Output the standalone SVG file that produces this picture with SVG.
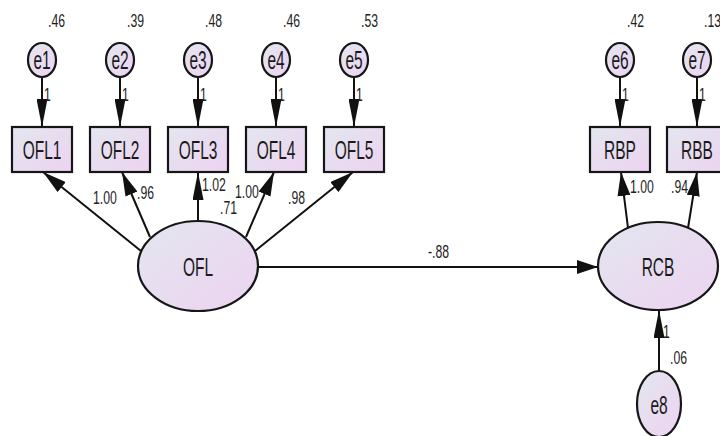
<svg xmlns="http://www.w3.org/2000/svg" width="720" height="436" viewBox="0 0 720 436">
  <defs>
    <linearGradient id="fill" x1="0" y1="0" x2="1" y2="1">
      <stop offset="0" stop-color="#e3e6ef"/>
      <stop offset="1" stop-color="#edd3f1"/>
    </linearGradient>
    <!-- arrowheads: long/narrow for vertical paths, short/wide for horizontal -->
    <marker id="headV" markerUnits="userSpaceOnUse" markerWidth="28" markerHeight="11" refX="28" refY="5.5" orient="auto">
      <path d="M0,0 L28,5.5 L0,11 Z" fill="#111"/>
    </marker>
    <marker id="headD" markerUnits="userSpaceOnUse" markerWidth="24" markerHeight="13" refX="24" refY="6.5" orient="auto">
      <path d="M0,0 L24,6.5 L0,13 Z" fill="#111"/>
    </marker>
    <marker id="headH" markerUnits="userSpaceOnUse" markerWidth="21" markerHeight="14" refX="21" refY="7" orient="auto">
      <path d="M0,0 L21,7 L0,14 Z" fill="#111"/>
    </marker>
  </defs>
  <style>
    .shape { fill: url(#fill); stroke: #161616; stroke-width: 2.2; }
    .name { font-family: "Liberation Sans", Arial, sans-serif; font-size: 25px; fill: #1a1a1a; text-anchor: middle; }
    .val { font-family: "Liberation Sans", Arial, sans-serif; font-size: 18px; fill: #1e1e1e; }
    .edge { fill: none; stroke: #111; stroke-width: 2; }
    .v { marker-end: url(#headV); }
    .d { marker-end: url(#headD); }
    .h { marker-end: url(#headH); }
  </style>
  <rect width="720" height="436" fill="#ffffff"/>

  <!-- connectors -->
  <g id="connectors">
    <path class="edge v" d="M42,77 L42,127"/>
    <path class="edge v" d="M120,77 L120,127"/>
    <path class="edge v" d="M198,77 L198,127"/>
    <path class="edge v" d="M276,77 L276,127"/>
    <path class="edge v" d="M354,77 L354,127"/>
    <path class="edge v" d="M620,77 L620,127"/>
    <path class="edge v" d="M697,77 L697,127"/>
    <path class="edge d" d="M141,251 L43,172"/>
    <path class="edge d" d="M150,237 L122,172"/>
    <path class="edge v" d="M198,221 L198,172"/>
    <path class="edge d" d="M246,237 L274,172"/>
    <path class="edge d" d="M255,251 L353,172"/>
    <path class="edge d" d="M628,228 L621,172"/>
    <path class="edge d" d="M688,228 L697,172"/>
    <path class="edge h" d="M258,267 L598,267"/>
    <path class="edge v" d="M659,371 L659,310"/>

    <text class="val" transform="translate(44 101) scale(0.68 1)">1</text>
    <text class="val" transform="translate(122 101) scale(0.68 1)">1</text>
    <text class="val" transform="translate(200 101) scale(0.68 1)">1</text>
    <text class="val" transform="translate(278 101) scale(0.68 1)">1</text>
    <text class="val" transform="translate(356 101) scale(0.68 1)">1</text>
    <text class="val" transform="translate(622 101) scale(0.68 1)">1</text>
    <text class="val" transform="translate(699 101) scale(0.68 1)">1</text>

    <text class="val" transform="translate(93 204) scale(0.68 1)">1.00</text>
    <text class="val" transform="translate(137 199) scale(0.68 1)">.96</text>
    <text class="val" transform="translate(202 191) scale(0.68 1)">1.02</text>
    <text class="val" transform="translate(235 198) scale(0.68 1)">1.00</text>
    <text class="val" transform="translate(288 204) scale(0.68 1)">.98</text>
    <text class="val" transform="translate(428 258) scale(0.68 1)">-.88</text>
    <text class="val" transform="translate(630 193) scale(0.68 1)">1.00</text>
    <text class="val" transform="translate(671 193) scale(0.68 1)">.94</text>
    <text class="val" transform="translate(663 338) scale(0.68 1)">1</text>
  </g>

  <!-- error terms -->
  <g id="e1"><ellipse class="shape" cx="42" cy="60" rx="14" ry="17"/><text class="name" transform="translate(42 68.5) scale(0.62 1)">e1</text><text class="val" transform="translate(48 27) scale(0.68 1)">.46</text></g>
  <g id="e2"><ellipse class="shape" cx="120" cy="60" rx="14" ry="17"/><text class="name" transform="translate(120 68.5) scale(0.62 1)">e2</text><text class="val" transform="translate(127 27) scale(0.68 1)">.39</text></g>
  <g id="e3"><ellipse class="shape" cx="198" cy="60" rx="14" ry="17"/><text class="name" transform="translate(198 68.5) scale(0.62 1)">e3</text><text class="val" transform="translate(205 27) scale(0.68 1)">.48</text></g>
  <g id="e4"><ellipse class="shape" cx="276" cy="60" rx="14" ry="17"/><text class="name" transform="translate(276 68.5) scale(0.62 1)">e4</text><text class="val" transform="translate(283 27) scale(0.68 1)">.46</text></g>
  <g id="e5"><ellipse class="shape" cx="354" cy="60" rx="14" ry="17"/><text class="name" transform="translate(354 68.5) scale(0.62 1)">e5</text><text class="val" transform="translate(361 27) scale(0.68 1)">.53</text></g>
  <g id="e6"><ellipse class="shape" cx="620" cy="60" rx="14" ry="17"/><text class="name" transform="translate(620 68.5) scale(0.62 1)">e6</text><text class="val" transform="translate(627 27) scale(0.68 1)">.42</text></g>
  <g id="e7"><ellipse class="shape" cx="697" cy="60" rx="14" ry="17"/><text class="name" transform="translate(697 68.5) scale(0.62 1)">e7</text><text class="val" transform="translate(704 27) scale(0.68 1)">.13</text></g>

  <!-- observed indicators -->
  <g id="OFL1"><rect class="shape" x="12" y="127" width="60" height="45"/><text class="name" transform="translate(42 158.5) scale(0.62 1)">OFL1</text></g>
  <g id="OFL2"><rect class="shape" x="90" y="127" width="60" height="45"/><text class="name" transform="translate(120 158.5) scale(0.62 1)">OFL2</text></g>
  <g id="OFL3"><rect class="shape" x="168" y="127" width="60" height="45"/><text class="name" transform="translate(198 158.5) scale(0.62 1)">OFL3</text></g>
  <g id="OFL4"><rect class="shape" x="246" y="127" width="60" height="45"/><text class="name" transform="translate(276 158.5) scale(0.62 1)">OFL4</text></g>
  <g id="OFL5"><rect class="shape" x="324" y="127" width="60" height="45"/><text class="name" transform="translate(354 158.5) scale(0.62 1)">OFL5</text></g>
  <g id="RBP"><rect class="shape" x="590" y="127" width="60" height="45"/><text class="name" transform="translate(620 158.5) scale(0.62 1)">RBP</text></g>
  <g id="RBB"><rect class="shape" x="667" y="127" width="60" height="45"/><text class="name" transform="translate(697 158.5) scale(0.62 1)">RBB</text></g>

  <!-- latent constructs -->
  <g id="OFL"><ellipse class="shape" cx="198" cy="266" rx="60" ry="45"/><text class="name" transform="translate(198 275.5) scale(0.62 1)">OFL</text><text class="val" transform="translate(220 214) scale(0.68 1)">.71</text></g>
  <g id="RCB"><ellipse class="shape" cx="658" cy="266" rx="60" ry="44"/><text class="name" transform="translate(658 275.5) scale(0.62 1)">RCB</text></g>

  <!-- structural disturbance -->
  <g id="e8"><ellipse class="shape" cx="659" cy="404" rx="22" ry="33"/><text class="name" transform="translate(659 413.5) scale(0.62 1)">e8</text><text class="val" transform="translate(670 364) scale(0.68 1)">.06</text></g>
</svg>
